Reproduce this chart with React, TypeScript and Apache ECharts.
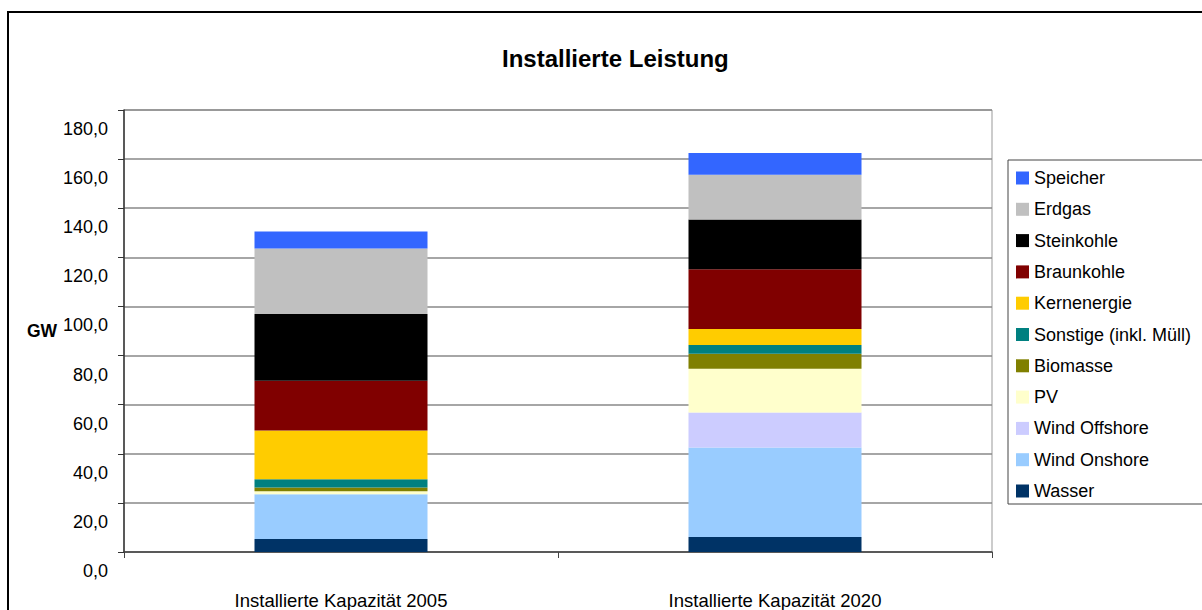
import React, { useEffect, useRef } from "react";
import * as echarts from "echarts";

const categories = ["Installierte Kapazität 2005", "Installierte Kapazität 2020"];
const seriesNames = [
  "Wasser",
  "Wind Onshore",
  "Wind Offshore",
  "PV",
  "Biomasse",
  "Sonstige (inkl. Müll)",
  "Kernenergie",
  "Braunkohle",
  "Steinkohle",
  "Erdgas",
  "Speicher",
];
const wasser = [5.3, 6.1];
const windOnshore = [18.2, 36.5];
const windOffshore = [0, 14.2];
const pv = [1.2, 17.8];
const biomasse = [1.6, 6.1];
const sonstige = [3.3, 3.6];
const kernenergie = [19.9, 6.5];
const braunkohle = [20.2, 24.3];
const steinkohle = [27.2, 20.3];
const erdgas = [26.7, 18.2];
const speicher = [6.9, 8.9];
const seriesValues = [
  wasser,
  windOnshore,
  windOffshore,
  pv,
  biomasse,
  sonstige,
  kernenergie,
  braunkohle,
  steinkohle,
  erdgas,
  speicher,
];
const colors = [
  "#003366",
  "#99CCFF",
  "#CCCCFF",
  "#FFFFCC",
  "#808000",
  "#008080",
  "#FFCC00",
  "#800000",
  "#000000",
  "#C0C0C0",
  "#3366FF",
];
const yTicks = { min: 0, max: 180, interval: 20 };

const FONT = "'Liberation Sans', Arial, Helvetica, sans-serif";

export default function App() {
  const ref = useRef<HTMLDivElement>(null);
  useEffect(() => {
    if (!ref.current) return;
    const chart = echarts.init(ref.current, null, { renderer: "svg" });
    const option: any = {
      animation: false,
      backgroundColor: "#fff",
      textStyle: { fontFamily: FONT, color: "#000" },
      title: {
        text: "Installierte Leistung",
        left: 502,
        top: 46,
        padding: 0,
        textStyle: { fontFamily: FONT, fontSize: 24, fontWeight: "bold", color: "#000" },
      },
      graphic: [
        {
          type: "rect",
          shape: { x: 8, y: 12, width: 1400, height: 800 },
          style: { fill: "none", stroke: "#000", lineWidth: 2 },
          silent: true,
          z: 100,
        },
      ],
      legend: {
        orient: "vertical",
        left: 1008,
        top: 160,
        itemWidth: 13,
        itemHeight: 13,
        itemGap: 13.3,
        padding: [9, 60, 4, 8],
        borderColor: "#444",
        borderWidth: 1,
        icon: "rect",
        data: seriesNames.slice().reverse(),
        textStyle: { fontFamily: FONT, fontSize: 18, color: "#000" },
      },
      grid: {
        left: 124,
        right: 210,
        top: 110,
        bottom: 56,
        show: true,
        borderColor: "#999",
        borderWidth: 1,
        backgroundColor: "transparent",
      },
      xAxis: {
        type: "category",
        data: categories,
        axisLine: { lineStyle: { color: "#444", width: 1.5 } },
        axisTick: { show: true, alignWithLabel: false, length: 6, lineStyle: { color: "#444" } },
        axisLabel: { margin: 39, fontSize: 18.5, color: "#000", fontFamily: FONT },
        splitLine: { show: false },
      },
      yAxis: {
        type: "value",
        min: yTicks.min,
        max: yTicks.max,
        interval: yTicks.interval,
        name: "GW",
        nameLocation: "middle",
        nameRotate: 0,
        nameGap: 61,
        nameTextStyle: { fontFamily: FONT, fontSize: 17.5, fontWeight: "bold", color: "#000" },
        axisLine: { show: true, lineStyle: { color: "#333", width: 1.5 } },
        axisTick: { show: true, length: 6, lineStyle: { color: "#333" } },
        axisLabel: {
          margin: 16,
          fontSize: 18,
          color: "#000",
          fontFamily: FONT,
          verticalAlign: "top",
          lineHeight: 38,
          formatter: (v: number) => v.toFixed(1).replace(".", ","),
        },
        splitLine: { show: true, lineStyle: { color: "#888", width: 1.5 } },
      },
      series: seriesNames.map((name, i) => ({
        name,
        type: "bar",
        stack: "total",
        barWidth: 173,
        itemStyle: { color: colors[i] },
        data: seriesValues[i],
      })),
    };
    chart.setOption(option);
    return () => chart.dispose();
  }, []);
  return (
    <div
      ref={ref}
      style={{ position: "absolute", left: 0, top: 0, width: 1202, height: 610 }}
    />
  );
}
